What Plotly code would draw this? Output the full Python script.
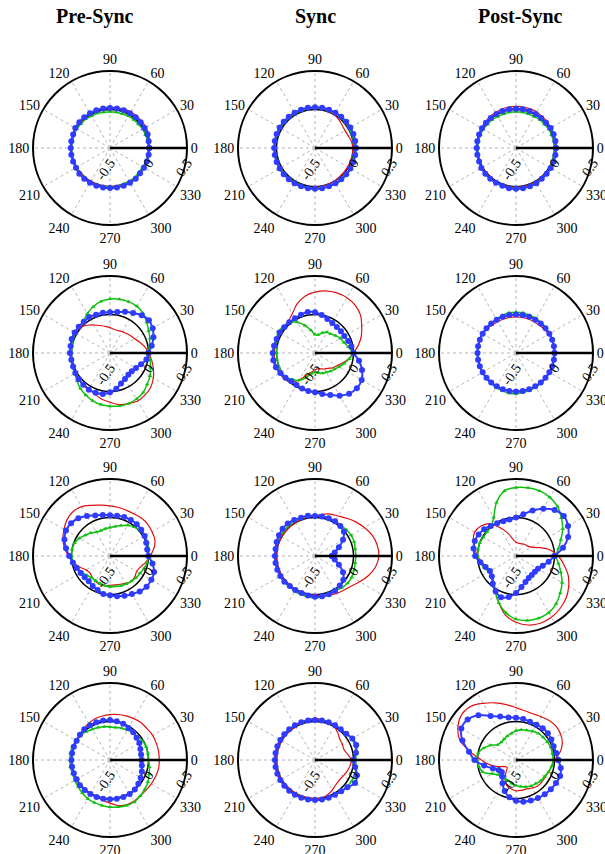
import plotly.graph_objects as go

# angles (deg) at which every curve is sampled
theta_deg = [0, 10, 20, 30, 40, 50, 60, 70, 80, 90, 100, 110, 120, 130, 140, 150, 160, 170,
             180, 190, 200, 210, 220, 230, 240, 250, 260, 270, 280, 290, 300, 310, 320, 330, 340, 350]

column_titles = ["Pre-Sync", "Sync", "Post-Sync"]
angle_ticks = [0, 30, 60, 90, 120, 150, 180, 210, 240, 270, 300, 330]
radial_ticks = [-0.5, 0, 0.5]

# black reference circle (r = 0)
ref_black = [0.0, 0.0, 0.0, 0.0, 0.0, 0.0, 0.0, 0.0, 0.0, 0.0, 0.0, 0.0, 0.0, 0.0, 0.0, 0.0, 0.0, 0.0,
             0.0, 0.0, 0.0, 0.0, 0.0, 0.0, 0.0, 0.0, 0.0, 0.0, 0.0, 0.0, 0.0, 0.0, 0.0, 0.0, 0.0, 0.0]

# ---- row 1 ----
r1_pre_red = [0.01, 0.02, 0.03, 0.04, 0.04, 0.04, 0.04, 0.04, 0.03, 0.03, 0.03, 0.02, 0.02, 0.01, 0.01, 0.01, 0.01, 0.01,
              0.01, 0.01, 0.0, 0.0, 0.0, 0.0, 0.0, 0.0, 0.0, 0.0, 0.0, 0.0, 0.0, 0.0, 0.0, 0.0, 0.0, 0.01]
r1_pre_green = [0.0, 0.0, -0.01, -0.01, -0.02, -0.02, -0.02, -0.03, -0.03, -0.03, -0.03, -0.02, -0.02, -0.01, -0.01, 0.0, 0.0, 0.0,
                0.0, 0.0, 0.01, 0.01, 0.01, 0.02, 0.02, 0.02, 0.01, 0.01, 0.01, 0.0, 0.0, 0.0, -0.01, -0.01, 0.0, 0.0]
r1_pre_blue = [0.01, 0.01, 0.02, 0.02, 0.02, 0.02, 0.02, 0.02, 0.02, 0.02, 0.02, 0.02, 0.02, 0.02, 0.02, 0.02, 0.01, 0.01,
               0.01, 0.01, 0.01, 0.01, 0.02, 0.02, 0.02, 0.02, 0.02, 0.02, 0.02, 0.02, 0.02, 0.02, 0.01, 0.01, 0.01, 0.01]

r1_syn_red = [-0.01, -0.02, -0.04, -0.05, -0.04, -0.02, 0.0, 0.01, 0.02, 0.02, 0.02, 0.02, 0.02, 0.02, 0.02, 0.02, 0.02, 0.02,
              0.02, 0.02, 0.02, 0.02, 0.02, 0.02, 0.02, 0.02, 0.02, 0.01, 0.01, 0.0, 0.0, -0.01, -0.01, -0.01, -0.01, -0.01]
r1_syn_green = [0.01, 0.01, 0.01, 0.01, 0.02, 0.02, 0.02, 0.02, 0.02, 0.02, 0.02, 0.02, 0.02, 0.02, 0.02, 0.02, 0.02, 0.02,
                0.02, 0.02, 0.02, 0.02, 0.02, 0.02, 0.02, 0.02, 0.02, 0.02, 0.03, 0.03, 0.04, 0.04, 0.04, 0.03, 0.02, 0.01]
r1_syn_blue = [0.03, 0.03, 0.03, 0.03, 0.03, 0.03, 0.03, 0.03, 0.03, 0.03, 0.03, 0.03, 0.03, 0.03, 0.03, 0.03, 0.03, 0.03,
               0.03, 0.03, 0.03, 0.03, 0.03, 0.03, 0.03, 0.03, 0.03, 0.03, 0.03, 0.03, 0.03, 0.03, 0.03, 0.03, 0.03, 0.03]

r1_post_red = [0.01, 0.01, 0.02, 0.02, 0.03, 0.03, 0.04, 0.04, 0.04, 0.04, 0.04, 0.04, 0.03, 0.03, 0.02, 0.02, 0.01, 0.01,
               0.01, 0.01, 0.01, 0.01, 0.01, 0.01, 0.01, 0.01, 0.01, 0.01, 0.01, 0.01, 0.01, 0.01, 0.01, 0.01, 0.01, 0.01]
r1_post_green = [0.0, 0.0, -0.01, -0.01, -0.02, -0.02, -0.03, -0.03, -0.03, -0.03, -0.03, -0.03, -0.03, -0.02, -0.02, -0.01, -0.01, 0.0,
                 0.0, 0.0, 0.01, 0.01, 0.02, 0.02, 0.02, 0.02, 0.02, 0.02, 0.02, 0.02, 0.02, 0.01, 0.01, 0.01, 0.0, 0.0]
r1_post_blue = [0.02, 0.02, 0.02, 0.02, 0.01, 0.01, 0.01, 0.01, 0.01, 0.01, 0.01, 0.01, 0.01, 0.01, 0.01, 0.01, 0.01, 0.01,
                0.01, 0.01, 0.01, 0.02, 0.02, 0.02, 0.02, 0.02, 0.03, 0.03, 0.03, 0.03, 0.03, 0.02, 0.02, 0.02, 0.02, 0.02]

# ---- row 2 ----
r2_pre_red = [0.0, -0.04, -0.09, -0.13, -0.15, -0.17, -0.18, -0.19, -0.19, -0.17, -0.15, -0.12, -0.08, -0.03, 0.01, 0.02, 0.02, 0.01,
              0.01, 0.01, 0.01, 0.02, 0.03, 0.03, 0.04, 0.07, 0.11, 0.14, 0.18, 0.2, 0.22, 0.21, 0.19, 0.15, 0.1, 0.05]
r2_pre_green = [0.0, 0.02, 0.05, 0.08, 0.12, 0.17, 0.2, 0.21, 0.21, 0.2, 0.18, 0.14, 0.09, 0.04, 0.02, 0.02, 0.01, 0.0,
                0.0, 0.01, 0.02, 0.03, 0.06, 0.1, 0.13, 0.16, 0.18, 0.19, 0.2, 0.2, 0.19, 0.17, 0.13, 0.1, 0.06, 0.03]
r2_pre_blue = [0.0, 0.05, 0.1, 0.14, 0.16, 0.14, 0.1, 0.07, 0.04, 0.03, 0.03, 0.03, 0.04, 0.03, 0.03, 0.03, 0.03, 0.02,
               0.02, 0.01, 0.01, 0.02, 0.03, 0.04, 0.05, 0.05, 0.04, 0.01, -0.03, -0.08, -0.11, -0.13, -0.13, -0.11, -0.07, -0.02]

r2_syn_red = [0.0, 0.07, 0.14, 0.2, 0.27, 0.31, 0.33, 0.33, 0.32, 0.29, 0.25, 0.18, 0.09, 0.04, 0.02, 0.02, 0.02, 0.03,
              0.03, 0.03, 0.03, 0.03, 0.02, 0.0, -0.1, -0.2, -0.25, -0.28, -0.29, -0.28, -0.26, -0.24, -0.2, -0.17, -0.12, -0.06]
r2_syn_green = [-0.01, -0.06, -0.1, -0.12, -0.15, -0.18, -0.19, -0.22, -0.26, -0.26, -0.2, -0.12, -0.04, 0.02, 0.04, 0.05, 0.03, 0.01,
                0.0, 0.0, 0.0, 0.0, -0.01, -0.05, -0.09, -0.16, -0.23, -0.25, -0.24, -0.22, -0.21, -0.19, -0.17, -0.14, -0.1, -0.05]
r2_syn_blue = [0.0, -0.02, -0.04, -0.06, -0.06, -0.06, -0.05, -0.03, 0.0, 0.03, 0.04, 0.03, 0.02, 0.02, 0.02, 0.03, 0.03, 0.04,
               0.05, 0.05, 0.04, 0.02, 0.0, -0.02, -0.02, -0.01, 0.0, 0.01, 0.04, 0.08, 0.14, 0.19, 0.21, 0.2, 0.15, 0.08]

r2_post_red = [0.0, 0.0, 0.0, -0.01, -0.02, -0.03, -0.03, -0.03, -0.03, -0.03, -0.03, -0.03, -0.03, -0.02, -0.01, 0.0, 0.0, 0.0,
               0.0, 0.0, 0.0, 0.0, 0.0, 0.0, 0.0, 0.0, 0.0, 0.0, 0.0, 0.0, 0.0, 0.0, 0.0, 0.0, 0.0, 0.0]
r2_post_green = [0.0, 0.0, 0.0, 0.0, 0.01, 0.01, 0.02, 0.02, 0.03, 0.03, 0.03, 0.02, 0.01, 0.0, 0.0, 0.0, 0.0, 0.0,
                 0.0, 0.0, 0.0, 0.0, 0.01, 0.01, 0.02, 0.02, 0.03, 0.03, 0.02, 0.02, 0.01, 0.01, 0.0, 0.0, 0.0, 0.0]
r2_post_blue = [0.0, 0.0, 0.0, 0.0, 0.0, 0.0, 0.0, 0.0, 0.0, 0.0, 0.0, 0.0, 0.0, 0.0, 0.0, 0.0, 0.0, 0.0,
                0.0, 0.0, 0.0, 0.0, 0.0, 0.0, 0.0, 0.0, 0.0, 0.0, 0.0, 0.0, 0.0, 0.0, 0.0, 0.0, 0.0, 0.0]

# ---- row 3 ----
r3_pre_red = [0.02, 0.08, 0.12, 0.13, 0.14, 0.14, 0.13, 0.13, 0.14, 0.15, 0.17, 0.2, 0.24, 0.25, 0.23, 0.19, 0.15, 0.1,
              0.04, -0.02, -0.08, -0.14, -0.16, -0.14, -0.12, -0.11, -0.11, -0.12, -0.12, -0.11, -0.09, -0.07, -0.08, -0.1, -0.08, -0.03]
r3_pre_green = [0.0, 0.01, 0.02, 0.02, 0.01, -0.01, -0.04, -0.08, -0.11, -0.13, -0.14, -0.15, -0.14, -0.11, -0.08, -0.04, -0.01, 0.0,
                0.0, -0.02, -0.05, -0.08, -0.11, -0.13, -0.13, -0.12, -0.11, -0.1, -0.1, -0.09, -0.08, -0.07, -0.06, -0.05, -0.03, -0.01]
r3_pre_blue = [0.0, -0.01, 0.0, 0.02, 0.03, 0.04, 0.04, 0.04, 0.03, 0.03, 0.04, 0.06, 0.1, 0.14, 0.16, 0.16, 0.13, 0.08,
               0.03, -0.01, -0.04, -0.06, -0.07, -0.07, -0.05, -0.03, 0.0, 0.01, 0.03, 0.05, 0.07, 0.1, 0.12, 0.12, 0.11, 0.06]

r3_syn_red = [0.33, 0.32, 0.29, 0.24, 0.19, 0.14, 0.1, 0.08, 0.05, 0.02, 0.01, 0.01, 0.0, 0.0, 0.0, 0.0, 0.0, 0.0,
              0.0, 0.0, 0.0, 0.0, 0.0, 0.0, 0.0, 0.0, 0.01, 0.01, 0.02, 0.04, 0.06, 0.08, 0.11, 0.17, 0.24, 0.3]
r3_syn_green = [0.03, 0.03, 0.04, 0.04, 0.03, 0.02, 0.02, 0.02, 0.02, 0.02, 0.02, 0.02, 0.02, 0.02, 0.02, 0.02, 0.02, 0.02,
                0.02, 0.02, 0.02, 0.02, 0.02, 0.02, 0.03, 0.03, 0.04, 0.04, 0.04, 0.03, 0.02, 0.04, 0.05, 0.05, 0.04, 0.03]
r3_syn_blue = [-0.28, -0.24, -0.17, -0.08, -0.01, 0.01, 0.02, 0.02, 0.02, 0.02, 0.03, 0.03, 0.04, 0.05, 0.05, 0.04, 0.03, 0.02,
               0.02, 0.02, 0.02, 0.02, 0.02, 0.01, 0.01, 0.01, 0.02, 0.03, 0.03, 0.03, 0.02, 0.0, -0.02, -0.08, -0.17, -0.24]

r3_post_red = [0.05, -0.05, -0.18, -0.27, -0.3, -0.31, -0.32, -0.33, -0.33, -0.32, -0.28, -0.18, -0.07, 0.05, 0.1, 0.12, 0.09, 0.04,
               0.0, -0.05, -0.09, -0.1, -0.08, -0.05, 0.03, 0.15, 0.28, 0.36, 0.41, 0.43, 0.42, 0.39, 0.35, 0.29, 0.22, 0.13]
r3_post_green = [0.02, 0.06, 0.12, 0.2, 0.27, 0.34, 0.38, 0.4, 0.4, 0.39, 0.36, 0.24, 0.08, 0.0, -0.01, -0.01, 0.0, 0.0,
                 0.0, -0.02, -0.06, -0.09, -0.1, -0.05, 0.04, 0.15, 0.25, 0.32, 0.35, 0.36, 0.35, 0.31, 0.25, 0.19, 0.12, 0.06]
r3_post_blue = [0.0, 0.12, 0.22, 0.28, 0.31, 0.28, 0.21, 0.13, 0.05, 0.0, -0.02, -0.02, -0.01, 0.01, 0.04, 0.06, 0.07, 0.06,
                0.03, -0.03, -0.08, -0.11, -0.09, -0.03, 0.03, 0.07, 0.04, -0.02, -0.09, -0.14, -0.17, -0.18, -0.18, -0.17, -0.13, -0.07]

# ---- row 4 ----
r4_pre_red = [0.14, 0.14, 0.14, 0.14, 0.13, 0.13, 0.12, 0.11, 0.1, 0.09, 0.08, 0.07, 0.05, 0.03, 0.01, 0.0, 0.0, 0.0,
              0.0, 0.0, 0.0, 0.0, 0.0, 0.0, 0.0, 0.01, 0.03, 0.06, 0.1, 0.12, 0.12, 0.11, 0.11, 0.12, 0.13, 0.14]
r4_pre_green = [0.0, 0.0, 0.0, -0.01, -0.03, -0.04, -0.05, -0.06, -0.07, -0.07, -0.06, -0.05, -0.04, -0.02, 0.0, 0.01, 0.02, 0.02,
                0.02, 0.02, 0.02, 0.03, 0.04, 0.06, 0.08, 0.09, 0.1, 0.11, 0.12, 0.13, 0.13, 0.11, 0.09, 0.07, 0.04, 0.02]
r4_pre_blue = [-0.09, -0.09, -0.08, -0.06, -0.05, -0.03, -0.02, 0.0, 0.01, 0.02, 0.02, 0.02, 0.02, 0.02, 0.01, 0.0, 0.0, 0.0,
               0.0, 0.0, 0.0, 0.0, 0.01, 0.01, 0.01, 0.01, 0.01, 0.01, 0.01, 0.01, 0.01, 0.0, -0.02, -0.04, -0.06, -0.08]

r4_syn_red = [-0.03, -0.07, -0.1, -0.09, -0.08, -0.04, 0.0, 0.02, 0.03, 0.04, 0.03, 0.02, 0.0, 0.0, 0.0, 0.0, 0.0, 0.0,
              0.0, 0.0, 0.0, 0.0, 0.0, 0.0, 0.0, 0.0, 0.0, 0.0, 0.0, -0.02, -0.05, -0.08, -0.09, -0.08, -0.06, -0.04]
r4_syn_green = [0.03, 0.04, 0.05, 0.05, 0.03, 0.02, 0.02, 0.02, 0.02, 0.02, 0.02, 0.02, 0.02, 0.02, 0.02, 0.02, 0.02, 0.02,
                0.02, 0.02, 0.02, 0.02, 0.02, 0.02, 0.02, 0.02, 0.02, 0.02, 0.02, 0.02, 0.02, 0.03, 0.04, 0.05, 0.05, 0.04]
r4_syn_blue = [0.0, 0.04, 0.07, 0.06, 0.03, 0.02, 0.02, 0.02, 0.02, 0.02, 0.02, 0.02, 0.02, 0.02, 0.02, 0.02, 0.02, 0.02,
               0.02, 0.02, 0.02, 0.02, 0.02, 0.02, 0.02, 0.02, 0.02, 0.02, 0.02, 0.02, 0.02, 0.03, 0.05, 0.1, 0.08, 0.03]

r4_post_red = [0.0, 0.08, 0.14, 0.17, 0.18, 0.17, 0.15, 0.14, 0.15, 0.18, 0.23, 0.29, 0.35, 0.41, 0.42, 0.37, 0.28, 0.1,
               -0.05, -0.15, -0.25, -0.33, -0.35, -0.3, -0.22, -0.15, -0.12, -0.1, -0.1, -0.1, -0.08, -0.06, -0.06, -0.06, -0.05, -0.03]
r4_post_green = [-0.02, -0.02, -0.02, -0.03, -0.04, -0.05, -0.07, -0.09, -0.1, -0.12, -0.15, -0.17, -0.19, -0.2, -0.19, -0.12, -0.05, 0.0,
                 0.01, -0.01, -0.04, -0.14, -0.2, -0.22, -0.22, -0.21, -0.19, -0.17, -0.15, -0.13, -0.11, -0.1, -0.08, -0.07, -0.05, -0.03]
r4_post_blue = [0.05, 0.03, 0.02, 0.03, 0.04, 0.04, 0.03, 0.03, 0.04, 0.05, 0.06, 0.1, 0.16, 0.26, 0.32, 0.32, 0.24, 0.12,
                0.04, -0.08, -0.18, -0.24, -0.26, -0.22, -0.15, -0.07, -0.01, 0.03, 0.05, 0.06, 0.07, 0.08, 0.09, 0.1, 0.11, 0.09]

panels = [
    [(r1_pre_red, r1_pre_green, r1_pre_blue), (r1_syn_red, r1_syn_green, r1_syn_blue), (r1_post_red, r1_post_green, r1_post_blue)],
    [(r2_pre_red, r2_pre_green, r2_pre_blue), (r2_syn_red, r2_syn_green, r2_syn_blue), (r2_post_red, r2_post_green, r2_post_blue)],
    [(r3_pre_red, r3_pre_green, r3_pre_blue), (r3_syn_red, r3_syn_green, r3_syn_blue), (r3_post_red, r3_post_green, r3_post_blue)],
    [(r4_pre_red, r4_pre_green, r4_pre_blue), (r4_syn_red, r4_syn_green, r4_syn_blue), (r4_post_red, r4_post_green, r4_post_blue)],
]

W, H = 605, 854
col_cx = [110, 315, 516]
row_cy = [148, 353, 556, 760]
RAD = 77

SERIF = "Liberation Serif, Times New Roman, serif"
fig = go.Figure()
closed_theta = theta_deg + [theta_deg[0]]


def close(v):
    return list(v) + [v[0]]


layout_polars = {}
idx = 0
for ri, row in enumerate(panels):
    for ci, (red, green, blue) in enumerate(row):
        idx += 1
        key = "polar" if idx == 1 else f"polar{idx}"
        sub = key
        cx, cy = col_cx[ci], row_cy[ri]
        layout_polars[key] = dict(
            domain=dict(x=[(cx - RAD) / W, (cx + RAD) / W],
                        y=[1 - (cy + RAD) / H, 1 - (cy - RAD) / H]),
            bgcolor="white",
            radialaxis=dict(range=[-0.5, 0.5], tickvals=radial_ticks,
                            ticktext=["-0.5", "0", "0.5"], angle=0, tickangle=-55,
                            side="clockwise", showgrid=False, showline=True,
                            linecolor="black", linewidth=2.5, ticks="",
                            tickfont=dict(family=SERIF, size=14, color="black")),
            angularaxis=dict(rotation=0, direction="counterclockwise",
                             tickvals=angle_ticks, ticktext=[str(a) for a in angle_ticks],
                             showline=True, linecolor="black", linewidth=2,
                             showgrid=True, gridcolor="#b4b4b4", griddash="dot", gridwidth=1,
                             ticks="", tickfont=dict(family=SERIF, size=14, color="black")),
        )
        fig.add_trace(go.Scatterpolar(r=close(ref_black), theta=closed_theta, mode="lines",
                                      line=dict(color="black", width=1.5, shape="spline"),
                                      subplot=sub, showlegend=False))
        fig.add_trace(go.Scatterpolar(r=close(red), theta=closed_theta, mode="lines",
                                      line=dict(color="#e01010", width=1.2, shape="spline"),
                                      subplot=sub, showlegend=False))
        fig.add_trace(go.Scatterpolar(r=close(green), theta=closed_theta, mode="lines+markers",
                                      line=dict(color="#10c010", width=1.5, shape="spline"),
                                      marker=dict(symbol="triangle-up", size=4, color="#10c010"),
                                      subplot=sub, showlegend=False))
        fig.add_trace(go.Scatterpolar(r=close(blue), theta=closed_theta, mode="lines+markers",
                                      line=dict(color="#2f3cff", width=2, shape="spline"),
                                      marker=dict(symbol="circle", size=6, color="#2f3cff"),
                                      subplot=sub, showlegend=False))

title_x = [95, 315, 520]
annotations = [dict(text=f"<b>{t}</b>", x=title_x[i] / W, y=1 - 16 / H, xref="paper", yref="paper",
                    showarrow=False, xanchor="center", yanchor="middle",
                    font=dict(family=SERIF, size=20, color="black"))
               for i, t in enumerate(column_titles)]

fig.update_layout(width=W, height=H, margin=dict(l=0, r=0, t=0, b=0),
                  paper_bgcolor="white", plot_bgcolor="white",
                  annotations=annotations, **layout_polars)

fig.write_html("out.html")
